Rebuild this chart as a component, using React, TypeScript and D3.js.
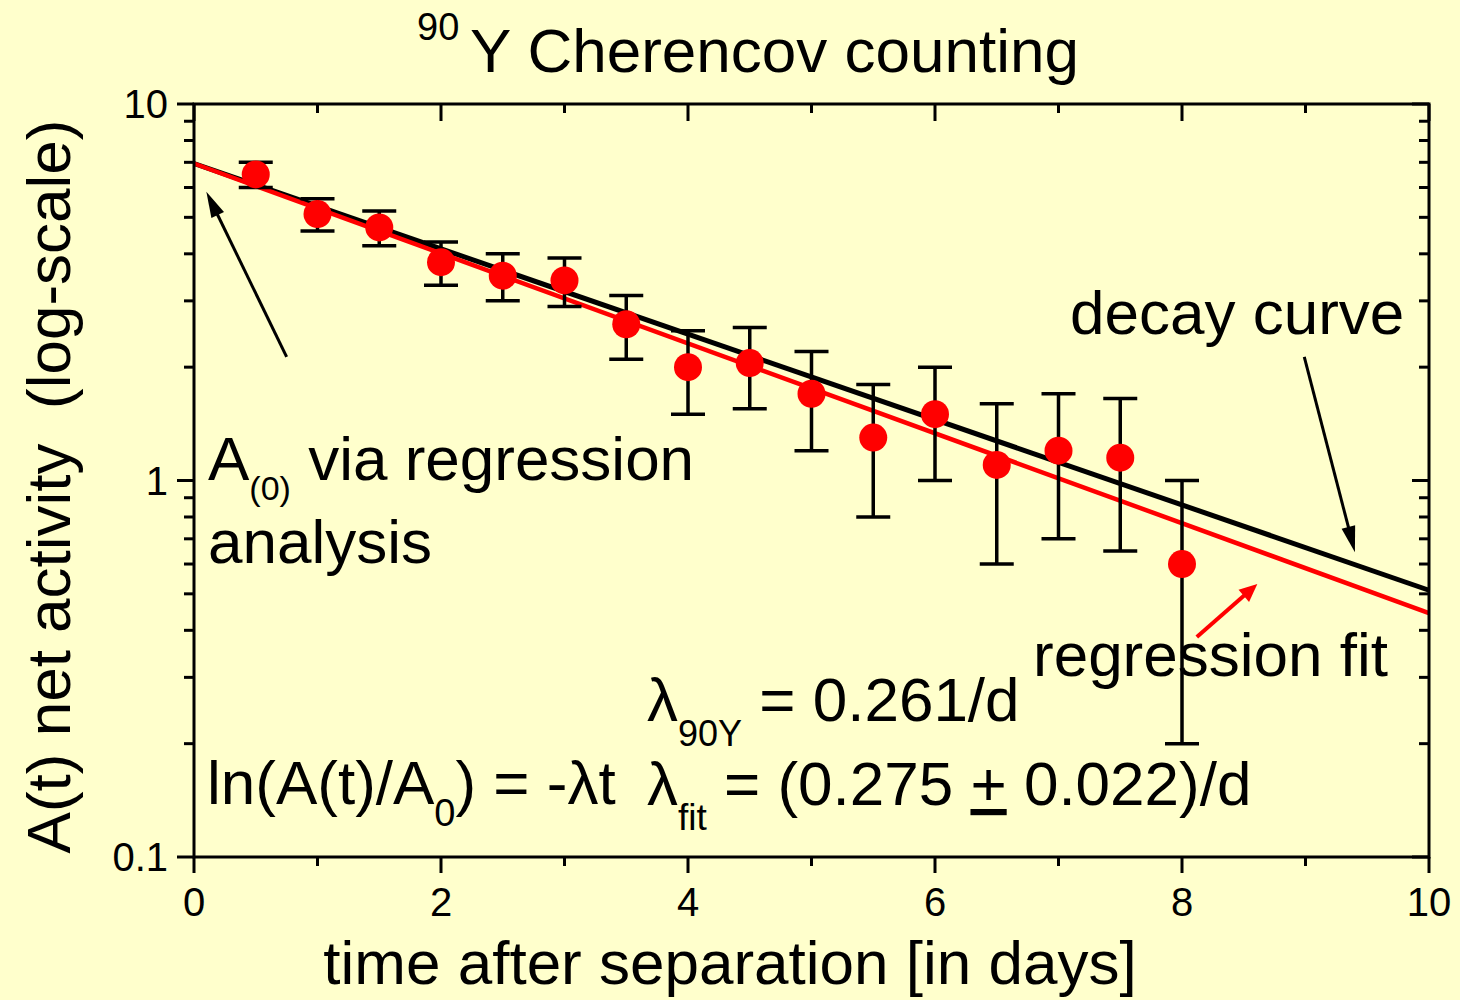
import React from 'react';
import * as d3 from 'd3';

// Measured net activity of the 90Y sample (Cherenkov counting)
const tDays = [0.5, 1, 1.5, 2, 2.5, 3, 3.5, 4, 4.5, 5, 5.5, 6, 6.5, 7, 7.5, 8];
const activity = [6.5, 5.1, 4.7, 3.8, 3.5, 3.4, 2.6, 2.0, 2.05, 1.7, 1.3, 1.5, 1.1, 1.2, 1.15, 0.6];
const activityErr = [0.5, 0.5, 0.5, 0.5, 0.5, 0.5, 0.5, 0.5, 0.5, 0.5, 0.5, 0.5, 0.5, 0.5, 0.5, 0.4];

// Decay constants (per day) and the extrapolated start activity
const lambdaDecay = 0.261;
const lambdaFit = 0.275;
const activityStart = 6.95;

// Axis ticks
const dayTicks = [0, 2, 4, 6, 8, 10];
const dayMinorTicks = [1, 3, 5, 7, 9];
const activityTicks = [0.1, 1, 10];
const activityTickLabels = ['0.1', '1', '10'];
const activityMinorTicks = [0.1, 1].flatMap((d) => [2, 3, 4, 5, 6, 7, 8, 9].map((k) => d * k));

// Annotation arrows in data units: [t1, a1, t2, a2]
const arrowStartValue = [0.75, 2.13, 0.1, 5.85];
const arrowDecay = [8.99, 2.13, 9.4, 0.645];
const arrowFit = [8.12, 0.384, 8.61, 0.531];

const W = 1460;
const H = 1000;
const BG = '#FFFFCC';
const FONT = '"Liberation Sans", Arial, Helvetica, sans-serif';

const x = d3.scaleLinear().domain([0, 10]).range([194, 1429]);
const y = d3.scaleLog().domain([0.1, 10]).range([857, 104]);

const decayLine = d3
  .line<number>()
  .x((t) => x(t))
  .y((t) => y(activityStart * Math.exp(-lambdaDecay * t)));
const fitLine = d3
  .line<number>()
  .x((t) => x(t))
  .y((t) => y(activityStart * Math.exp(-lambdaFit * t)));
const lineDomain = [0, 10];

function Arrow({ spec, color, width, headLen, headHalf }: { spec: number[]; color: string; width: number; headLen: number; headHalf: number }) {
  const x1 = x(spec[0]);
  const y1 = y(spec[1]);
  const x2 = x(spec[2]);
  const y2 = y(spec[3]);
  const dx = x2 - x1;
  const dy = y2 - y1;
  const len = Math.hypot(dx, dy);
  const ux = dx / len;
  const uy = dy / len;
  const bx = x2 - ux * headLen;
  const by = y2 - uy * headLen;
  const pts = [
    [x2, y2],
    [bx - uy * headHalf, by + ux * headHalf],
    [bx + uy * headHalf, by - ux * headHalf],
  ]
    .map((p) => p.join(','))
    .join(' ');
  return (
    <g>
      <line x1={x1} y1={y1} x2={bx + ux * 2} y2={by + uy * 2} stroke={color} strokeWidth={width} />
      <polygon points={pts} fill={color} />
    </g>
  );
}

export default function App() {
  const [x0, x1] = x.range();
  const [yb, yt] = y.range();
  const axisStroke = 3;
  return (
    <svg
      width={W}
      height={H}
      viewBox={`0 0 ${W} ${H}`}
      style={{ position: 'absolute', left: 0, top: 0, display: 'block' }}
      fontFamily={FONT}
    >
      <rect x={0} y={0} width={W} height={H} fill={BG} />

      {/* Title */}
      <text x={417} y={40} fontSize={38} fill="#000">90</text>
      <text x={470} y={72} fontSize={62} fill="#000">Y Cherencov counting</text>

      {/* Decay curve and regression fit */}
      <path d={decayLine(lineDomain) ?? ''} fill="none" stroke="#000" strokeWidth={5} />
      <path d={fitLine(lineDomain) ?? ''} fill="none" stroke="#FF0000" strokeWidth={4.5} />

      {/* Error bars */}
      {tDays.map((t, i) => {
        const cx = x(t);
        const top = y(activity[i] + activityErr[i]);
        const bot = y(activity[i] - activityErr[i]);
        return (
          <g key={`e${i}`} stroke="#000" strokeWidth={3.5}>
            <line x1={cx} x2={cx} y1={top} y2={bot} />
            <line x1={cx - 17} x2={cx + 17} y1={top} y2={top} />
            <line x1={cx - 17} x2={cx + 17} y1={bot} y2={bot} />
          </g>
        );
      })}

      {/* Data points */}
      {tDays.map((t, i) => (
        <circle key={`p${i}`} cx={x(t)} cy={y(activity[i])} r={14} fill="#FF0000" />
      ))}

      {/* Frame */}
      <rect x={x0} y={yt} width={x1 - x0} height={yb - yt} fill="none" stroke="#000" strokeWidth={axisStroke} />

      {/* X ticks: outward on bottom, inward on top */}
      {dayTicks.map((t) => (
        <g key={`xt${t}`} stroke="#000" strokeWidth={3}>
          <line x1={x(t)} x2={x(t)} y1={yb} y2={yb + 16} />
          <line x1={x(t)} x2={x(t)} y1={yt} y2={yt + 17} />
        </g>
      ))}
      {dayMinorTicks.map((t) => (
        <g key={`xm${t}`} stroke="#000" strokeWidth={3}>
          <line x1={x(t)} x2={x(t)} y1={yb} y2={yb + 9} />
          <line x1={x(t)} x2={x(t)} y1={yt} y2={yt + 9} />
        </g>
      ))}
      {dayTicks.map((t) => (
        <text key={`xl${t}`} x={x(t)} y={916} fontSize={40} textAnchor="middle" fill="#000">
          {t}
        </text>
      ))}

      {/* Y ticks: outward on left, inward on right */}
      {activityTicks.map((v, i) => (
        <g key={`yt${v}`}>
          <line x1={x0 - 17} x2={x0} y1={y(v)} y2={y(v)} stroke="#000" strokeWidth={3} />
          <line x1={x1 - 17} x2={x1} y1={y(v)} y2={y(v)} stroke="#000" strokeWidth={3} />
          <text x={168} y={y(v) + 14} fontSize={40} textAnchor="end" fill="#000">
            {activityTickLabels[i]}
          </text>
        </g>
      ))}
      {activityMinorTicks.map((v) => (
        <g key={`ym${v}`} stroke="#000" strokeWidth={3}>
          <line x1={x0 - 10} x2={x0} y1={y(v)} y2={y(v)} />
          <line x1={x1 - 10} x2={x1} y1={y(v)} y2={y(v)} />
        </g>
      ))}

      {/* Axis titles */}
      <text x={730} y={984} fontSize={62} textAnchor="middle" fill="#000">
        time after separation [in days]
      </text>
      <text
        transform={`translate(70, ${(yt + yb) / 2 + 6}) rotate(-90)`}
        fontSize={62}
        textAnchor="middle"
        fill="#000"
      >
        {'A(t) net activity\u00A0 (log-scale)'}
      </text>

      {/* Annotations */}
      <text x={208} y={480} fontSize={62} fill="#000">
        A<tspan fontSize={34} dy={20}>(0)</tspan>
        <tspan dy={-20}> via regression</tspan>
      </text>
      <text x={208} y={563} fontSize={62} fill="#000">analysis</text>

      <text x={1070} y={334} fontSize={62} fill="#000">decay curve</text>
      <text x={1033} y={676} fontSize={62} fill="#000">regression fit</text>

      <text x={207} y={804} fontSize={62} fill="#000">
        ln(A(t)/A<tspan fontSize={38} dy={22}>0</tspan>
        <tspan dy={-22}>) = -λt</tspan>
      </text>

      <text x={647} y={721} fontSize={62} fill="#000">
        λ<tspan fontSize={36} dy={25}>90Y</tspan>
        <tspan dy={-25}> = 0.261/d</tspan>
      </text>
      <text x={647} y={805} fontSize={62} fill="#000">
        λ<tspan fontSize={37} dy={25}>fit</tspan>
        <tspan dy={-25}> = (0.275 </tspan>
        <tspan style={{ textDecoration: 'underline' }}>+</tspan>
        <tspan> 0.022)/d</tspan>
      </text>

      <Arrow spec={arrowStartValue} color="#000" width={3} headLen={26} headHalf={7} />
      <Arrow spec={arrowDecay} color="#000" width={3} headLen={26} headHalf={7} />
      <Arrow spec={arrowFit} color="#FF0000" width={4} headLen={18} headHalf={8} />
    </svg>
  );
}
